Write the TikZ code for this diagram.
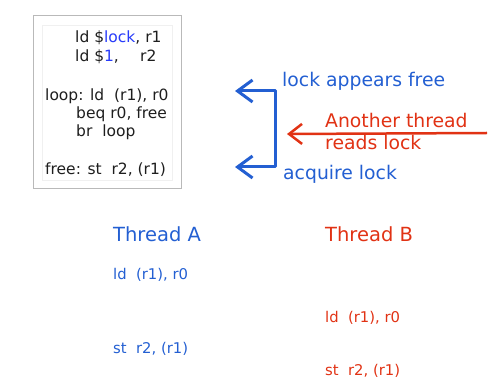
\documentclass[tikz,border=0pt]{standalone}
\usepackage{fontspec}
\setmainfont{DejaVu Sans}
\usetikzlibrary{arrows.meta}
\definecolor{annblue}{RGB}{35,95,210}
\definecolor{annred}{RGB}{225,50,20}
\definecolor{codeblue}{RGB}{40,60,250}
\definecolor{codetext}{RGB}{30,30,30}
\tikzset{
  codeline/.style={anchor=base west,inner sep=0pt,text=codetext,font=\fontsize{15.5}{18}\selectfont},
  ann/.style={anchor=base west,inner sep=0pt,font=\fontsize{18.8}{22}\selectfont},
  thr/.style={anchor=base west,inner sep=0pt,font=\fontsize{19.5}{22}\selectfont},
  instr/.style={anchor=base west,inner sep=0pt,font=\fontsize{14.8}{17}\selectfont},
  bluearrow/.style={draw=annblue,line width=3pt,line join=round},
  redarrow/.style={draw=annred,line width=2.5pt},
}
\begin{document}
\begin{tikzpicture}[x=1pt,y=-1pt]
\useasboundingbox (0,0) rectangle (493,379);
% code box
\draw[gray!55,line width=1pt,fill=white] (33,16) rectangle (181,189);
\draw[gray!12,line width=0.8pt] (42,25) rectangle (172,180);
\node[codeline] (c1) at (75,43) {ld \$\textcolor{codeblue}{lock}, r1};
\node[codeline] (c2) at (75,62) {ld \$\textcolor{codeblue}{1},};
\node[codeline] (c2b) at (140,62) {r2};
\node[codeline] (c3) at (45,101) {loop: ld\ \ (r1), r0};
\node[codeline] (c4) at (76,119) {beq r0, free};
\node[codeline] (c5) at (76,137) {br\ \ loop};
\node[codeline] (c6) at (45,175) {free: st\ \ r2, (r1)};
% annotations
\node[ann,text=annblue] (l1) at (282,87) {lock appears free};
\node[ann,text=annred] (l2) at (325,128) {Another thread};
\node[ann,text=annred] (l3) at (325,150) {reads lock};
\node[ann,text=annblue] (l4) at (283,180) {acquire lock};
% arrows
\coordinate (ta) at (235,91);
\coordinate (bt) at (275,91);
\coordinate (bb) at (275,167);
\coordinate (tb) at (235,167);
\draw[bluearrow,{Straight Barb[length=15pt,width=22pt,line width=3pt]}-{Straight Barb[length=15pt,width=22pt,line width=3pt]}] (ta) -- (bt) -- (bb) -- (tb);
\coordinate (rs) at (487,133);
\coordinate (re) at (287,134);
\draw[redarrow,-{Straight Barb[length=13pt,width=20pt,line width=2.5pt]}] (rs) -- (re);
% threads
\node[thr,text=annblue] (ta1) at (113,242) {Thread A};
\node[thr,text=annred] (tb1) at (325,242) {Thread B};
\node[instr,text=annblue] (a1) at (113,280) {ld\ \ (r1), r0};
\node[instr,text=annred] (b1) at (325,323) {ld\ \ (r1), r0};
\node[instr,text=annblue] (a2) at (113,354) {st\ \ r2, (r1)};
\node[instr,text=annred] (b2) at (325,376) {st\ \ r2, (r1)};
\end{tikzpicture}
\end{document}
